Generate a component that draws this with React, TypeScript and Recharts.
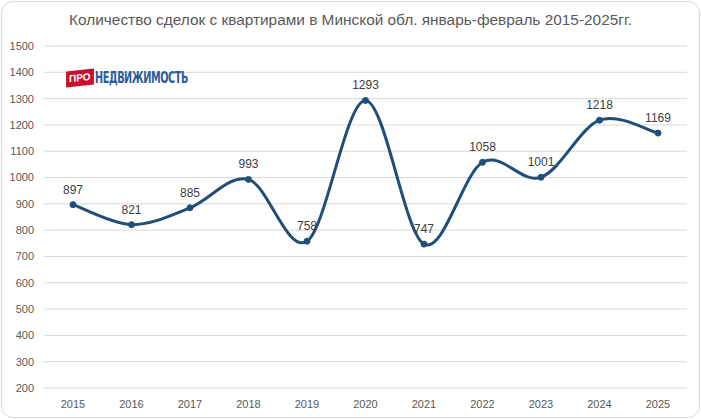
import { LineChart, Line, XAxis, YAxis, CartesianGrid, LabelList } from 'recharts';

const years = ['2015', '2016', '2017', '2018', '2019', '2020', '2021', '2022', '2023', '2024', '2025'];
const deals = [897, 821, 885, 993, 758, 1293, 747, 1058, 1001, 1218, 1169];
const yTicks = [200, 300, 400, 500, 600, 700, 800, 900, 1000, 1100, 1200, 1300, 1400, 1500];

const data = years.map((year, i) => ({ year, deals: deals[i] }));

const LINE = '#1f4e79';
const FONT = '"Liberation Sans", Arial, sans-serif';

// Excel-style smoothed line: cubic Bezier with control points from neighbours / 6
const excelCurve: any = (context: any) => {
    let pts: number[][] = [];
    return {
        areaStart() {},
        areaEnd() {},
        lineStart() {
            pts = [];
        },
        point(x: number, y: number) {
            pts.push([+x, +y]);
        },
        lineEnd() {
            if (!pts.length) return;
            context.moveTo(pts[0][0], pts[0][1]);
            for (let i = 0; i < pts.length - 1; i++) {
                const p0 = pts[i - 1] || pts[i];
                const p1 = pts[i];
                const p2 = pts[i + 1];
                const p3 = pts[i + 2] || pts[i + 1];
                context.bezierCurveTo(
                    p1[0] + (p2[0] - p0[0]) / 6,
                    p1[1] + (p2[1] - p0[1]) / 6,
                    p2[0] - (p3[0] - p1[0]) / 6,
                    p2[1] - (p3[1] - p1[1]) / 6,
                    p2[0],
                    p2[1]
                );
            }
        },
    };
};

function Logo() {
    return (
        <div style={{ position: 'absolute', left: 66, top: 69, display: 'flex', alignItems: 'center' }}>
            <div
                style={{
                    background: '#c8102e',
                    color: '#fff',
                    fontFamily: FONT,
                    fontWeight: 700,
                    fontSize: 10,
                    padding: '2px 3px',
                    transform: 'rotate(-6deg) skewX(-6deg)',
                    lineHeight: '12px',
                }}
            >
                ПРО
            </div>
            <div
                style={{
                    color: '#2e5c9a',
                    fontFamily: '"DejaVu Sans Condensed", "Liberation Sans Narrow", sans-serif',
                    fontWeight: 700,
                    fontSize: 15,
                    letterSpacing: -0.6,
                    transform: 'scaleX(0.72)',
                    transformOrigin: 'left center',
                    marginLeft: 1,
                }}
            >
                НЕДВИЖИМОСТЬ
            </div>
        </div>
    );
}

export default function App() {
    return (
        <div style={{ position: 'absolute', left: 0, top: 0, width: 701, height: 419, background: '#fff' }}>
            <div
                style={{
                    position: 'absolute',
                    left: 1,
                    top: 1,
                    width: 697,
                    height: 415,
                    border: '1px solid #d9d9d9',
                    borderRadius: 12,
                }}
            />
            <div
                style={{
                    position: 'absolute',
                    left: 0,
                    top: 11,
                    width: 701,
                    textAlign: 'center',
                    fontFamily: FONT,
                    fontSize: 15.4,
                    color: '#595959',
                }}
            >
                Количество сделок с квартирами в Минской обл. январь-февраль 2015-2025гг.
            </div>
            <LineChart
                width={701}
                height={419}
                data={data}
                margin={{ top: 46, right: 14, bottom: 0, left: 0 }}
                style={{ position: 'absolute', left: 0, top: 0 }}
            >
                <CartesianGrid vertical={false} stroke="#d9d9d9" />
                <XAxis
                    dataKey="year"
                    height={31}
                    axisLine={false}
                    tickLine={false}
                    tick={{ fill: '#595959', fontSize: 11, fontFamily: FONT }}
                    tickMargin={6}
                    interval={0}
                    padding={{ left: 29, right: 29 }}
                />
                <YAxis
                    width={44}
                    domain={[200, 1500]}
                    ticks={yTicks}
                    axisLine={false}
                    tickLine={false}
                    tick={{ fill: '#595959', fontSize: 11, fontFamily: FONT }}
                    tickMargin={4}
                    interval={0}
                />
                <Line
                    dataKey="deals"
                    type={excelCurve}
                    stroke={LINE}
                    strokeWidth={3}
                    dot={{ r: 3, fill: LINE, stroke: LINE, strokeWidth: 1 }}
                    isAnimationActive={false}
                >
                    <LabelList dataKey="deals" position="top" offset={11} fill="#404040" fontSize={12} fontFamily={FONT} />
                </Line>
            </LineChart>
            <Logo />
        </div>
    );
}
